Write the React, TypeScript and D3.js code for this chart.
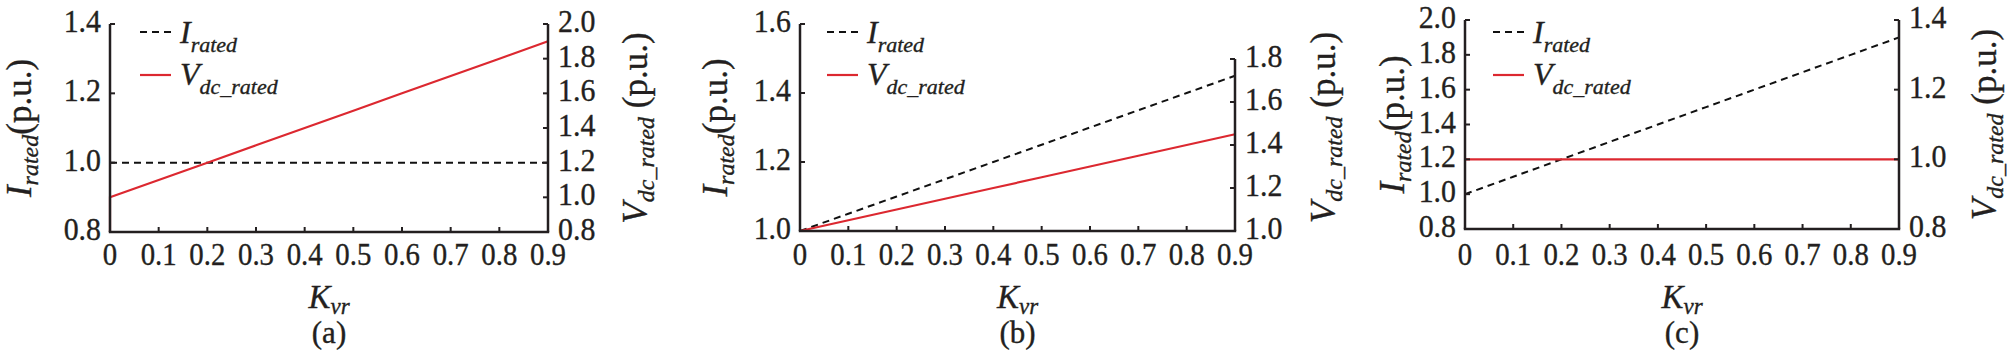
import React from "react";
import * as d3 from "d3";

// ---- data ----
const kvr = [0, 0.1, 0.2, 0.3, 0.4, 0.5, 0.6, 0.7, 0.8, 0.9];
const xTicks = [0, 0.1, 0.2, 0.3, 0.4, 0.5, 0.6, 0.7, 0.8, 0.9];

// panel (a)
const iRatedA = [1, 1, 1, 1, 1, 1, 1, 1, 1, 1];
const vdcKvrA = [0, 0, 0.1, 0.2, 0.3, 0.4, 0.5, 0.6, 0.7, 0.8, 0.9];
const vdcRatedA = [0.8, 1.0, 1.1, 1.2, 1.3, 1.4, 1.5, 1.6, 1.7, 1.8, 1.9];
const leftTicksA = [0.8, 1.0, 1.2, 1.4];
const rightTicksA = [0.8, 1.0, 1.2, 1.4, 1.6, 1.8, 2.0];

// panel (b)
const iRatedB = [1.0, 1.05, 1.1, 1.15, 1.2, 1.25, 1.3, 1.35, 1.4, 1.45];
const vdcRatedB = [1.0, 1.05, 1.1, 1.15, 1.2, 1.25, 1.3, 1.35, 1.4, 1.45];
const leftTicksB = [1.0, 1.2, 1.4, 1.6];
const rightTicksB = [1.0, 1.2, 1.4, 1.6, 1.8];

// panel (c)
const iRatedC = [1.0, 1.1, 1.2, 1.3, 1.4, 1.5, 1.6, 1.7, 1.8, 1.9];
const vdcRatedC = [1, 1, 1, 1, 1, 1, 1, 1, 1, 1];
const leftTicksC = [0.8, 1.0, 1.2, 1.4, 1.6, 1.8, 2.0];
const rightTicksC = [0.8, 1.0, 1.2, 1.4];

const panelLabels = ["(a)", "(b)", "(c)"];

// ---- style ----
const FONT = "'Liberation Serif', 'Times New Roman', serif";
const AXIS = "#231f20";
const RED = "#dc2830";

type Panel = {
  x0: number; x1: number; yTop: number; yBot: number; rightTop: number;
  leftTicks: number[]; rightTicks: number[];
  iK: number[]; iV: number[]; vK: number[]; vV: number[];
  label: string; leftOff: number; rightOff: number; legendOff: number;
};

const panels: Panel[] = [
  { x0: 110, x1: 548, yTop: 24, yBot: 232, rightTop: 24, leftTicks: leftTicksA, rightTicks: rightTicksA,
    iK: kvr, iV: iRatedA, vK: vdcKvrA, vV: vdcRatedA, label: panelLabels[0], leftOff: -79, rightOff: 99, legendOff: 30 },
  { x0: 800, x1: 1235, yTop: 24, yBot: 231, rightTop: 59, leftTicks: leftTicksB, rightTicks: rightTicksB,
    iK: kvr, iV: iRatedB, vK: kvr, vV: vdcRatedB, label: panelLabels[1], leftOff: -73, rightOff: 100, legendOff: 27 },
  { x0: 1465, x1: 1899, yTop: 20, yBot: 229, rightTop: 20, leftTicks: leftTicksC, rightTicks: rightTicksC,
    iK: kvr, iV: iRatedC, vK: kvr, vV: vdcRatedC, label: panelLabels[2], leftOff: -61, rightOff: 97, legendOff: 28 },
];

const fmtY = d3.format(".1f");
const fmtX = (v: number) => (v === 0 ? "0" : d3.format(".1f")(v));

function PanelView({ p }: { p: Panel }) {
  const x = d3.scaleLinear().domain([0, 0.9]).range([p.x0, p.x1]);
  const yL = d3.scaleLinear().domain([p.leftTicks[0], p.leftTicks[p.leftTicks.length - 1]]).range([p.yBot, p.yTop]);
  const yR = d3.scaleLinear().domain([p.rightTicks[0], p.rightTicks[p.rightTicks.length - 1]]).range([p.yBot, p.rightTop]);
  const iLine = d3.line<number>().x((_, i) => x(p.iK[i])).y((d) => yL(d));
  const vLine = d3.line<number>().x((_, i) => x(p.vK[i])).y((d) => yR(d));
  const tl = 5;
  const cx = (p.x0 + p.x1) / 2;
  const cy = (p.yTop + p.yBot) / 2;
  const lx = p.x0 + p.legendOff;
  const ly1 = 32;
  const ly2 = 75;
  const txt = { fontFamily: FONT, fill: AXIS, stroke: AXIS, strokeWidth: 0.35 };
  return (
    <g>
      {/* data lines */}
      <path d={iLine(p.iV) || ""} fill="none" stroke="#111" strokeWidth={2} strokeDasharray="7,5" />
      <path d={vLine(p.vV) || ""} fill="none" stroke={RED} strokeWidth={2.2} />
      {/* axes */}
      <line x1={p.x0} x2={p.x0} y1={p.yTop} y2={p.yBot} stroke={AXIS} strokeWidth={2.5} />
      <line x1={p.x1} x2={p.x1} y1={p.rightTop} y2={p.yBot} stroke={AXIS} strokeWidth={2.5} />
      <line x1={p.x0 - 1.2} x2={p.x1 + 1.2} y1={p.yBot} y2={p.yBot} stroke={AXIS} strokeWidth={2.5} />
      {xTicks.map((t) => (
        <g key={"x" + t}>
          <line x1={x(t)} x2={x(t)} y1={p.yBot} y2={p.yBot - tl} stroke={AXIS} strokeWidth={2} />
          <text transform={`translate(${x(t)},265) scale(0.93,1)`} textAnchor="middle" fontSize={31} {...txt}>{fmtX(t)}</text>
        </g>
      ))}
      {p.leftTicks.map((t) => (
        <g key={"l" + t}>
          <line x1={p.x0} x2={p.x0 + tl} y1={yL(t)} y2={yL(t)} stroke={AXIS} strokeWidth={2} />
          <text transform={`translate(${p.x0 - 9},${yL(t) + 8}) scale(0.92,1)`} textAnchor="end" fontSize={32.5} {...txt}>{fmtY(t)}</text>
        </g>
      ))}
      {p.rightTicks.map((t) => (
        <g key={"r" + t}>
          <line x1={p.x1} x2={p.x1 - tl} y1={yR(t)} y2={yR(t)} stroke={AXIS} strokeWidth={2} />
          <text transform={`translate(${p.x1 + 10},${yR(t) + 8}) scale(0.92,1)`} textAnchor="start" fontSize={32.5} {...txt}>{fmtY(t)}</text>
        </g>
      ))}
      {/* left axis title */}
      <text transform={`translate(${p.x0 + p.leftOff},${cy}) rotate(-90)`} textAnchor="middle" fontSize={35} {...txt}>
        <tspan fontStyle="italic">I</tspan>
        <tspan fontStyle="italic" fontSize={24} dy={7}>rated</tspan>
        <tspan dy={-7}>(p.u.)</tspan>
      </text>
      {/* right axis title */}
      <text transform={`translate(${p.x1 + p.rightOff},${cy}) rotate(-90)`} textAnchor="middle" fontSize={35} {...txt}>
        <tspan fontStyle="italic">V</tspan>
        <tspan fontStyle="italic" fontSize={24} dy={7}>dc_rated</tspan>
        <tspan dy={-7}> (p.u.)</tspan>
      </text>
      {/* x title */}
      <text x={cx} y={308} textAnchor="middle" fontSize={33} {...txt}>
        <tspan fontStyle="italic">K</tspan>
        <tspan fontStyle="italic" fontSize={23} dy={6}>vr</tspan>
      </text>
      <text x={cx} y={343} textAnchor="middle" fontSize={31} {...txt}>{p.label}</text>
      {/* legend */}
      <line x1={lx} x2={lx + 31} y1={ly1} y2={ly1} stroke="#111" strokeWidth={2} strokeDasharray="7,5" />
      <text x={lx + 40} y={ly1 + 11} fontSize={32} fontStyle="italic" {...txt}>
        <tspan>I</tspan>
        <tspan fontSize={22} dy={9}>rated</tspan>
      </text>
      <line x1={lx} x2={lx + 31} y1={ly2} y2={ly2} stroke={RED} strokeWidth={2.2} />
      <text x={lx + 40} y={ly2 + 10} fontSize={32} fontStyle="italic" {...txt}>
        <tspan>V</tspan>
        <tspan fontSize={22} dy={9}>dc_rated</tspan>
      </text>
    </g>
  );
}

export default function App() {
  return (
    <svg width={2012} height={355} style={{ position: "absolute", left: 0, top: 0, background: "#fff" }}>
      <rect width={2012} height={355} fill="#fff" />
      {panels.map((p, i) => (
        <PanelView key={i} p={p} />
      ))}
    </svg>
  );
}
